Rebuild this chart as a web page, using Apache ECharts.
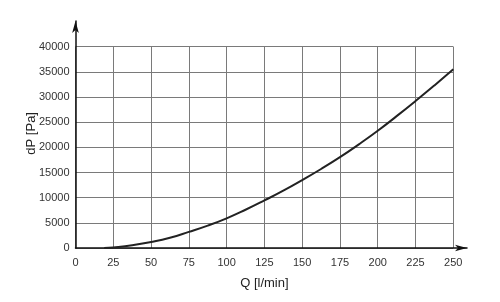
<!DOCTYPE html>
<html>
<head>
<meta charset="utf-8">
<script src="https://cdn.jsdelivr.net/npm/echarts@6/dist/echarts.min.js"></script>
<style>
  html, body { margin: 0; padding: 0; background: #fff; }
  #chart { width: 500px; height: 302px; }
</style>
</head>
<body>
<div id="chart"></div>
<script>
// flow rate Q [l/min] and pressure drop dP [Pa]
const flow = [19, 25, 37.5, 50, 62.5, 75, 87.5, 100, 112.5, 125, 137.5, 150, 162.5, 175, 187.5, 200, 212.5, 225, 237.5, 250]
const pressure = [0, 120, 550, 1200, 2050, 3200, 4450, 5900, 7600, 9450, 11400, 13500, 15700, 18050, 20600, 23300, 26200, 29200, 32300, 35500]

const xTicks = { min: 0, max: 250, interval: 25 }
const yTicks = { min: 0, max: 40000, interval: 5000 }

const font = 'Liberation Sans, Arial, sans-serif'
const gridColor = '#7a7a7a'

// arrowed axis line used on the overlay grid
function arrowAxis() {
  return {
    type: 'value',
    gridIndex: 1,
    min: 0,
    max: 1,
    axisLine: {
      show: true,
      onZero: false,
      symbol: ['none', 'arrow'],
      symbolSize: [5, 12],
      lineStyle: { color: '#111', width: 1.5 }
    },
    axisTick: { show: false },
    axisLabel: { show: false },
    splitLine: { show: false }
  }
}

const chart = echarts.init(document.getElementById('chart'))
chart.setOption({
  animation: false,
  grid: [
    { left: 75.5, top: 46.7, right: 46.7, bottom: 54 },
    { left: 75.5, top: 21, right: 33, bottom: 54 }
  ],
  xAxis: [
    {
      type: 'value',
      gridIndex: 0,
      min: xTicks.min,
      max: xTicks.max,
      interval: xTicks.interval,
      name: 'Q [l/min]',
      nameLocation: 'middle',
      nameGap: 29,
      nameMoveOverlap: false,
      nameTextStyle: { fontFamily: font, fontSize: 13, color: '#222' },
      axisLine: { show: false },
      axisTick: { show: false },
      axisLabel: { fontFamily: font, fontSize: 11, color: '#333', margin: 9 },
      splitLine: { show: true, lineStyle: { color: gridColor, width: 1 } }
    },
    arrowAxis()
  ],
  yAxis: [
    {
      type: 'value',
      gridIndex: 0,
      min: yTicks.min,
      max: yTicks.max,
      interval: yTicks.interval,
      name: 'dP [Pa]',
      nameLocation: 'middle',
      nameGap: 38,
      nameMoveOverlap: false,
      nameTextStyle: { fontFamily: font, fontSize: 13, color: '#222', padding: [0, 0, 0, 28] },
      axisLine: { show: false },
      axisTick: { show: false },
      axisLabel: {
        fontFamily: font, fontSize: 11, color: '#333', margin: 6,
        formatter: v => String(v)
      },
      splitLine: { show: true, lineStyle: { color: gridColor, width: 1 } }
    },
    arrowAxis()
  ],
  series: [
    {
      type: 'line',
      xAxisIndex: 0,
      yAxisIndex: 0,
      data: flow.map((q, i) => [q, pressure[i]]),
      smooth: 0.5,
      showSymbol: false,
      lineStyle: { color: '#222', width: 2 }
    }
  ]
})
</script>
</body>
</html>
